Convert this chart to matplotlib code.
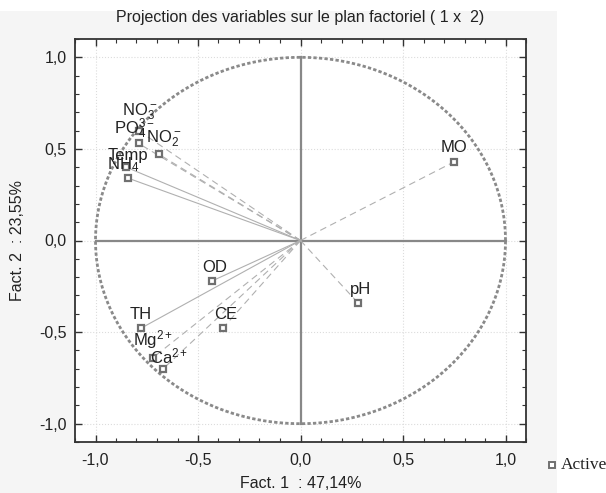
import numpy as np
import matplotlib
matplotlib.use('Agg')
import matplotlib.pyplot as plt
from matplotlib.ticker import MultipleLocator, FuncFormatter
from matplotlib.patches import Rectangle

plt.rcParams['font.family'] = ['Liberation Sans', 'DejaVu Sans']
plt.rcParams['mathtext.fontset'] = 'custom'
plt.rcParams['mathtext.rm'] = 'Liberation Sans'
plt.rcParams['mathtext.it'] = 'Liberation Sans'
plt.rcParams['mathtext.bf'] = 'Liberation Sans'

# Coordonnées des variables sur les facteurs 1 et 2
variables = [r'NO$_3^-$', r'PO$_4^{3-}$', r'NO$_2^-$', 'Temp', r'NH$_4$', 'MO',
             'OD', 'pH', 'TH', 'CE', r'Mg$^{2+}$', r'Ca$^{2+}$']
fact1 = [-0.79, -0.79, -0.69, -0.85, -0.84, 0.75, -0.43, 0.28, -0.78, -0.38, -0.72, -0.67]
fact2 = [0.60, 0.53, 0.47, 0.40, 0.34, 0.43, -0.22, -0.34, -0.48, -0.48, -0.64, -0.70]
trait_plein = [False, False, False, True, True, False, True, False, True, False, False, False]
# petit décalage des étiquettes (points) pour limiter les chevauchements
decalage = [(1, 6), (-3, 2), (3, 4), (1, 3), (-4, 3), (0, 4.5),
            (2, 4.5), (2, 4.5), (0, 4.5), (2, 4.5), (0, 5), (4, 2)]

inertie1 = '47,14'
inertie2 = '23,55'

fig = plt.figure(figsize=(6.06, 4.93), dpi=100)
fig.patch.set_facecolor('#f5f5f5')
fig.patches.append(Rectangle((557 / 606, 0), 1, 1, transform=fig.transFigure,
                             facecolor='white', edgecolor='none', zorder=-1))
fig.patches.append(Rectangle((0, 1 - 11 / 493), 1, 1, transform=fig.transFigure,
                             facecolor='white', edgecolor='none', zorder=-1))

ax = fig.add_axes([75 / 606, 1 - 442 / 493, 451 / 606, 403 / 493])
ax.set_facecolor('white')
ax.set_xlim(-1.1, 1.1)
ax.set_ylim(-1.1, 1.1)

# grille légère
ax.xaxis.set_major_locator(MultipleLocator(0.5))
ax.yaxis.set_major_locator(MultipleLocator(0.5))
ax.xaxis.set_minor_locator(MultipleLocator(0.1))
ax.yaxis.set_minor_locator(MultipleLocator(0.1))
ax.grid(True, which='major', color='#dcdcdc', linestyle=':', linewidth=0.8)
ax.set_axisbelow(True)

virgule = FuncFormatter(lambda v, p: ('%.1f' % v).replace('.', ','))
ax.xaxis.set_major_formatter(virgule)
ax.yaxis.set_major_formatter(virgule)
ax.tick_params(which='both', direction='in', top=True, right=True, colors='#333333',
               labelcolor='#222222', labelsize=11.5)
ax.tick_params(which='major', length=5, width=1)
ax.tick_params(which='minor', length=3, width=0.8)
ax.tick_params(axis='x', pad=8)
ax.tick_params(axis='y', pad=6)
for s in ax.spines.values():
    s.set_color('#333333')
    s.set_linewidth(1.3)

# cercle des corrélations
t = np.linspace(0, 2 * np.pi, 400)
ax.plot(np.cos(t), np.sin(t), color='#8a8a8a', linewidth=2, linestyle=(0, (1.2, 0.8)))
ax.plot([-1, 1], [0, 0], color='#888888', linewidth=1.6)
ax.plot([0, 0], [-1, 1], color='#888888', linewidth=1.6)

# vecteurs depuis l'origine
for x, y, plein in zip(fact1, fact2, trait_plein):
    ls = '-' if plein else (0, (6, 4))
    ax.plot([0, x], [0, y], color='#b0b0b0', linewidth=0.8, linestyle=ls)

ax.plot(fact1, fact2, linestyle='none', marker='s', markersize=4.5,
        markerfacecolor='white', markeredgecolor='#707070', markeredgewidth=1.6, zorder=5)

for nom, x, y, d in zip(variables, fact1, fact2, decalage):
    ax.annotate(nom, (x, y), xytext=d, textcoords='offset points',
                ha='center', va='bottom', fontsize=12, color='#222222', zorder=6)

ax.set_title('Projection des variables sur le plan factoriel ( 1 x  2)',
             fontsize=11.5, color='#222222', pad=12)
ax.set_xlabel('Fact. 1  : ' + inertie1 + '%', fontsize=11.5, color='#222222', labelpad=6)
ax.set_ylabel('Fact. 2  : ' + inertie2 + '%', fontsize=11.5, color='#222222', labelpad=10)

# légende
fig.lines.append(plt.Line2D([552 / 606], [1 - 465 / 493], transform=fig.transFigure,
                            marker='s', markersize=4.5, markerfacecolor='white',
                            markeredgecolor='#707070', markeredgewidth=1.4, linestyle='none'))
fig.text(561 / 606, 1 - 465 / 493, 'Active', family='Liberation Serif', fontsize=12.5,
         va='center', ha='left', color='#222222')

plt.savefig('out.png', dpi=100, facecolor=fig.get_facecolor())
